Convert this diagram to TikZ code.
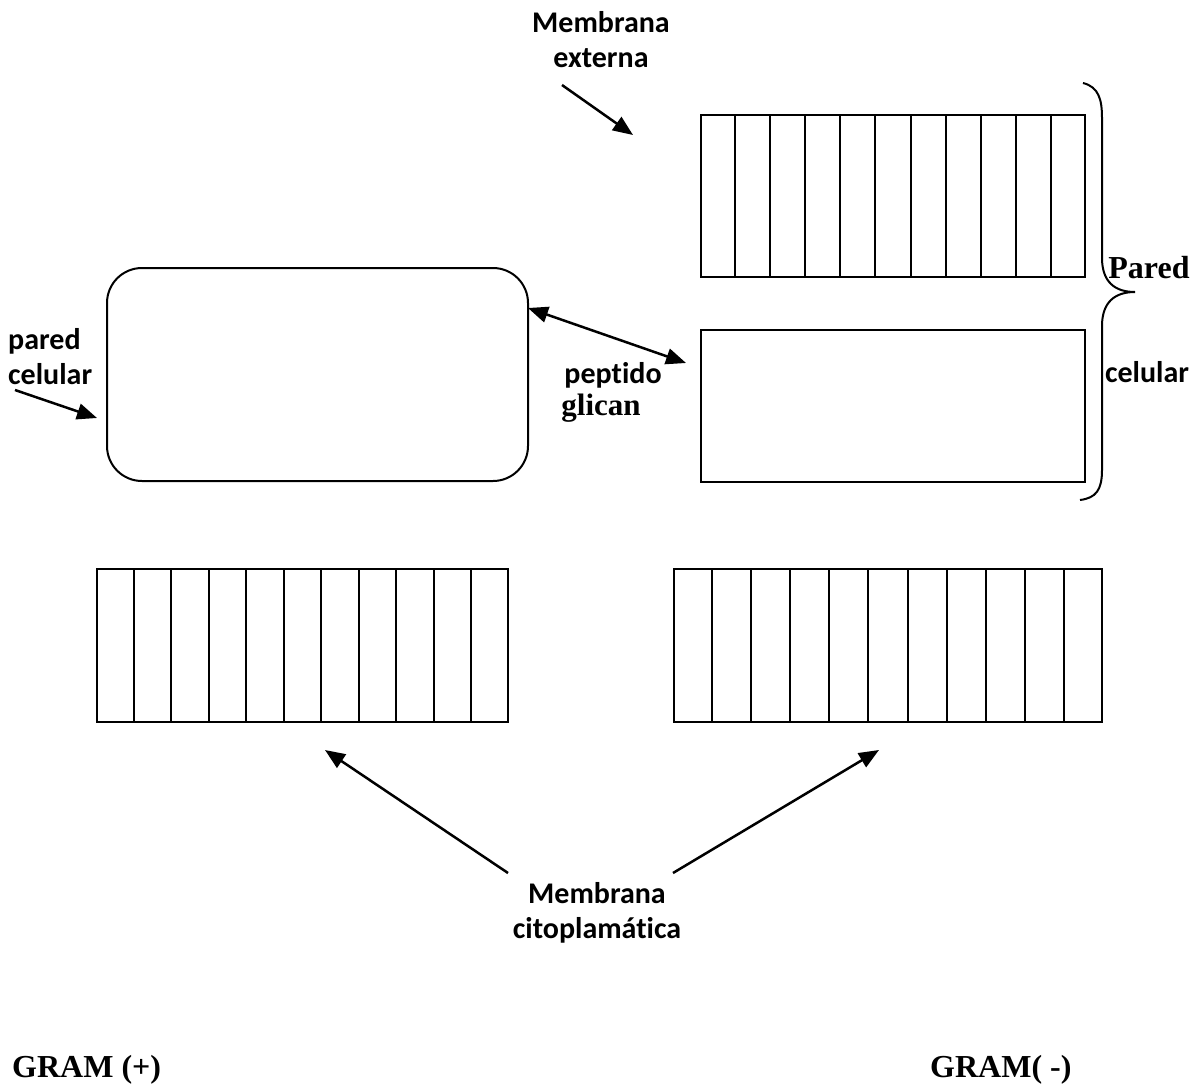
\documentclass[tikz,border=0pt]{standalone}
\usepackage{fontspec}
\setmainfont{Liberation Serif}
\newfontfamily\calibri[Ligatures=NoCommon]{Carlito}
\usepackage{tikz}
\usetikzlibrary{positioning,calc,arrows.meta}
\tikzset{
    membox/.style={
           rectangle,
           draw=black, line width=2pt,
           inner sep=0pt,
           },
    wallbox/.style={
           rectangle,
           rounded corners=35pt,
           draw=black, line width=2pt,
           inner sep=0pt,
           },
    stripe/.style={
           draw=black, line width=2pt,
           },
    lbl/.style={
           font=\calibri\bfseries\fontsize{30}{35}\selectfont,
           inner sep=0pt,
           },
    tlbl/.style={
           font=\bfseries\fontsize{32}{36}\selectfont,
           inner sep=0pt,
           },
    pointer/.style={
           line width=2.5pt,
           -{Triangle[length=20pt,width=16pt]},
           },
}

\begin{document}
\begin{tikzpicture}
[
x=1pt,y=-1pt
]
 \useasboundingbox (0,0) rectangle (1200,1087);

 % GRAM (-): outer membrane, striped
 \node[membox,
 minimum width=384pt,
 minimum height=162pt] (OMEXT) at (893,196) {};
 \foreach \i in {1,...,10}
  \draw[stripe] ($(OMEXT.north west)!{\i/11}!(OMEXT.north east)$)
   -- ($(OMEXT.south west)!{\i/11}!(OMEXT.south east)$);

 % GRAM (-): thin peptidoglycan layer
 \node[membox,
 minimum width=384pt,
 minimum height=152pt] (PEPNEG) at (893,406) {};

 % GRAM (+): thick wall, rounded
 \node[wallbox,
 minimum width=421pt,
 minimum height=213pt] (PEPPOS) at (317.5,374.5) {};

 % cytoplasmic membranes, striped
 \node[membox,
 minimum width=411pt,
 minimum height=153pt] (CMPOS) at (302.5,645.5) {};
 \foreach \i in {1,...,10}
  \draw[stripe] ($(CMPOS.north west)!{\i/11}!(CMPOS.north east)$)
   -- ($(CMPOS.south west)!{\i/11}!(CMPOS.south east)$);

 \node[membox,
 minimum width=428pt,
 minimum height=153pt] (CMNEG) at (888,645.5) {};
 \foreach \i in {1,...,10}
  \draw[stripe] ($(CMNEG.north west)!{\i/11}!(CMNEG.north east)$)
   -- ($(CMNEG.south west)!{\i/11}!(CMNEG.south east)$);

 % brace round the GRAM (-) wall
 \draw[line width=2pt] (1083,83) .. controls (1099,87) and (1102,100) .. (1102,118)
  -- (1102,258) .. controls (1102,282) and (1115,292) .. (1135,292)
  .. controls (1115,292) and (1102,302) .. (1102,326)
  -- (1102,470) .. controls (1102,490) and (1096,498) .. (1080,500);

 % labels
 \node[lbl, align=center] (EXT) at (601,40) {Membrana\\externa};
 \node[lbl, align=left, anchor=west] (WALL) at (8,357) {pared\\celular};
 \node[lbl] (PEPTIDO) at (613,375) {peptido};
 \node[tlbl, font=\bfseries\fontsize{31}{36}\selectfont] (GLICAN) at (601,408) {glican};
 \node[tlbl] (PARED) at (1149,268) {Pared};
 \node[lbl] (CELULAR) at (1147,372) {celular};
 \node[lbl, align=center] (CITO) at (597,913) {Membrana\\citoplam\'atica};
 \node[tlbl, anchor=west] (GRAMPOS) at (12,1070) {GRAM (+)};
 \node[tlbl, anchor=west] (GRAMNEG) at (930,1070) {GRAM( -)};

 % arrow ends
 \coordinate (EXTFROM) at (562,85);
 \coordinate (EXTTO) at (633,135);
 \coordinate (WALLFROM) at (15,390);
 \coordinate (WALLTO) at (97,418);
 \coordinate (PEPA) at (528,308);
 \coordinate (PEPB) at (686,363);
 \coordinate (CITOL) at (508,873);
 \coordinate (CITOR) at (673,873);
 \coordinate (CMPOSTO) at (325,750);
 \coordinate (CMNEGTO) at (879,750);

 \draw[pointer] (EXTFROM) -- (EXTTO);
 \draw[pointer] (WALLFROM) -- (WALLTO);
 \draw[pointer, {Triangle[length=20pt,width=16pt]}-{Triangle[length=20pt,width=16pt]}] (PEPA) -- (PEPB);
 \draw[pointer] (CITOL) -- (CMPOSTO);
 \draw[pointer] (CITOR) -- (CMNEGTO);

\end{tikzpicture}
\end{document}
